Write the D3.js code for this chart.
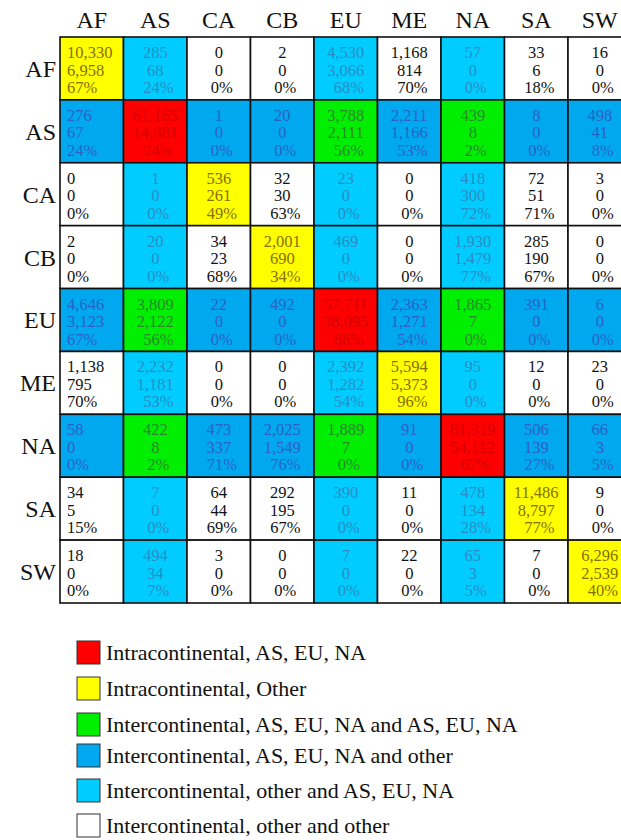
<!DOCTYPE html>
<html><head><meta charset="utf-8">
<script src="https://cdn.jsdelivr.net/npm/d3@7"></script>
<style>
html,body{margin:0;padding:0;background:#fff;}
svg{display:block;}
svg text{font-family:"Liberation Serif","DejaVu Serif",serif;}
</style></head>
<body>
<svg id="chart" width="621" height="840"></svg>
<script>
// Regions (rows = origin, columns = destination)
const regions = ["AF","AS","CA","CB","EU","ME","NA","SA","SW"];
const majorRegions = ["AS","EU","NA"];

// Per row: [total, second value, percent] for each column
const rowAF = [[10330,6958,67],[285,68,24],[0,0,0],[2,0,0],[4530,3066,68],[1168,814,70],[57,0,0],[33,6,18],[16,0,0]];
const rowAS = [[276,67,24],[61165,14881,24],[1,0,0],[20,0,0],[3788,2111,56],[2211,1166,53],[439,8,2],[8,0,0],[498,41,8]];
const rowCA = [[0,0,0],[1,0,0],[536,261,49],[32,30,63],[23,0,0],[0,0,0],[418,300,72],[72,51,71],[3,0,0]];
const rowCB = [[2,0,0],[20,0,0],[34,23,68],[2001,690,34],[469,0,0],[0,0,0],[1930,1479,77],[285,190,67],[0,0,0]];
const rowEU = [[4646,3123,67],[3809,2122,56],[22,0,0],[492,0,0],[57711,38095,66],[2363,1271,54],[1865,7,0],[391,0,0],[6,0,0]];
const rowME = [[1138,795,70],[2232,1181,53],[0,0,0],[0,0,0],[2392,1282,54],[5594,5373,96],[95,0,0],[12,0,0],[23,0,0]];
const rowNA = [[58,0,0],[422,8,2],[473,337,71],[2025,1549,76],[1889,7,0],[91,0,0],[81319,54112,67],[506,139,27],[66,3,5]];
const rowSA = [[34,5,15],[7,0,0],[64,44,69],[292,195,67],[390,0,0],[11,0,0],[478,134,28],[11486,8797,77],[9,0,0]];
const rowSW = [[18,0,0],[494,34,7],[3,0,0],[0,0,0],[7,0,0],[22,0,0],[65,3,5],[7,0,0],[6296,2539,40]];
const matrix = [rowAF,rowAS,rowCA,rowCB,rowEU,rowME,rowNA,rowSA,rowSW];

const legendLabels = [
  "Intracontinental, AS, EU, NA",
  "Intracontinental, Other",
  "Intercontinental, AS, EU, NA and AS, EU, NA",
  "Intercontinental, AS, EU, NA and other",
  "Intercontinental, other and AS, EU, NA",
  "Intercontinental, other and other"
];
const fillColors = ["#ff0000","#ffff00","#00ee00","#00a8f0","#00ccff","#ffffff"];
const textColors = ["#d40000","#857000","#2a8a2a","#2c62c4","#2a8cc4","#111111"];

function category(r, c){
  const rm = majorRegions.includes(r), cm = majorRegions.includes(c);
  if (r === c) return rm ? 0 : 1;
  if (rm && cm) return 2;
  if (rm) return 3;
  if (cm) return 4;
  return 5;
}

const svg = d3.select("#chart");
const x = d3.scaleBand().domain(regions).range([60, 60 + 9*63.5]);
const y = d3.scaleBand().domain(regions).range([37, 603]);
const fmt = d3.format(",");

const cells = [];
regions.forEach((r,i)=>regions.forEach((c,j)=>{
  cells.push({r, c, v: matrix[i][j], cat: category(r,c)});
}));

const g = svg.append("g");
const cg = g.selectAll("g.cell").data(cells).join("g")
  .attr("transform", d=>`translate(${x(d.c)},${y(d.r)})`);
cg.append("rect")
  .attr("width", x.bandwidth()).attr("height", y.bandwidth())
  .attr("fill", d=>fillColors[d.cat])
  .attr("stroke", "#111").attr("stroke-width", 1.6);
cg.each(function(d){
  const lines = [fmt(d.v[0]), fmt(d.v[1]), d.v[2] + "%"];
  const sel = d3.select(this);
  const left = d.c === "AF";
  lines.forEach((t,k)=>{
    sel.append("text")
      .attr("x", left ? 7 : x.bandwidth()/2 + (k===2 ? 3 : 0))
      .attr("y", 21 + k*17.5)
      .attr("text-anchor", left ? "start" : "middle")
      .attr("font-size", 16.5)
      .attr("fill", textColors[d.cat])
      .text(t);
  });
});

// Column headers
svg.append("g").selectAll("text").data(regions).join("text")
  .attr("x", d=>x(d)+x.bandwidth()/2)
  .attr("y", 28)
  .attr("text-anchor","middle")
  .attr("font-size", 24)
  .attr("fill","#111")
  .text(d=>d);

// Row headers
svg.append("g").selectAll("text").data(regions).join("text")
  .attr("x", 56)
  .attr("y", d=>y(d)+y.bandwidth()/2)
  .attr("dy","0.35em")
  .attr("text-anchor","end")
  .attr("font-size", 24)
  .attr("fill","#111")
  .text(d=>d);

// Legend
const legendY = [641, 677, 713, 744, 779, 814];
const lg = svg.append("g").selectAll("g").data(legendLabels).join("g")
  .attr("transform",(d,i)=>`translate(77,${legendY[i]})`);
lg.append("rect").attr("width",23).attr("height",23)
  .attr("fill",(d,i)=>fillColors[i]).attr("stroke","#333").attr("stroke-width",1);
lg.append("text")
  .attr("transform","translate(29,12) scale(1.1,1)")
  .attr("dy","0.35em")
  .attr("font-size",20).attr("fill","#111").text(d=>d);
</script>
</body></html>
